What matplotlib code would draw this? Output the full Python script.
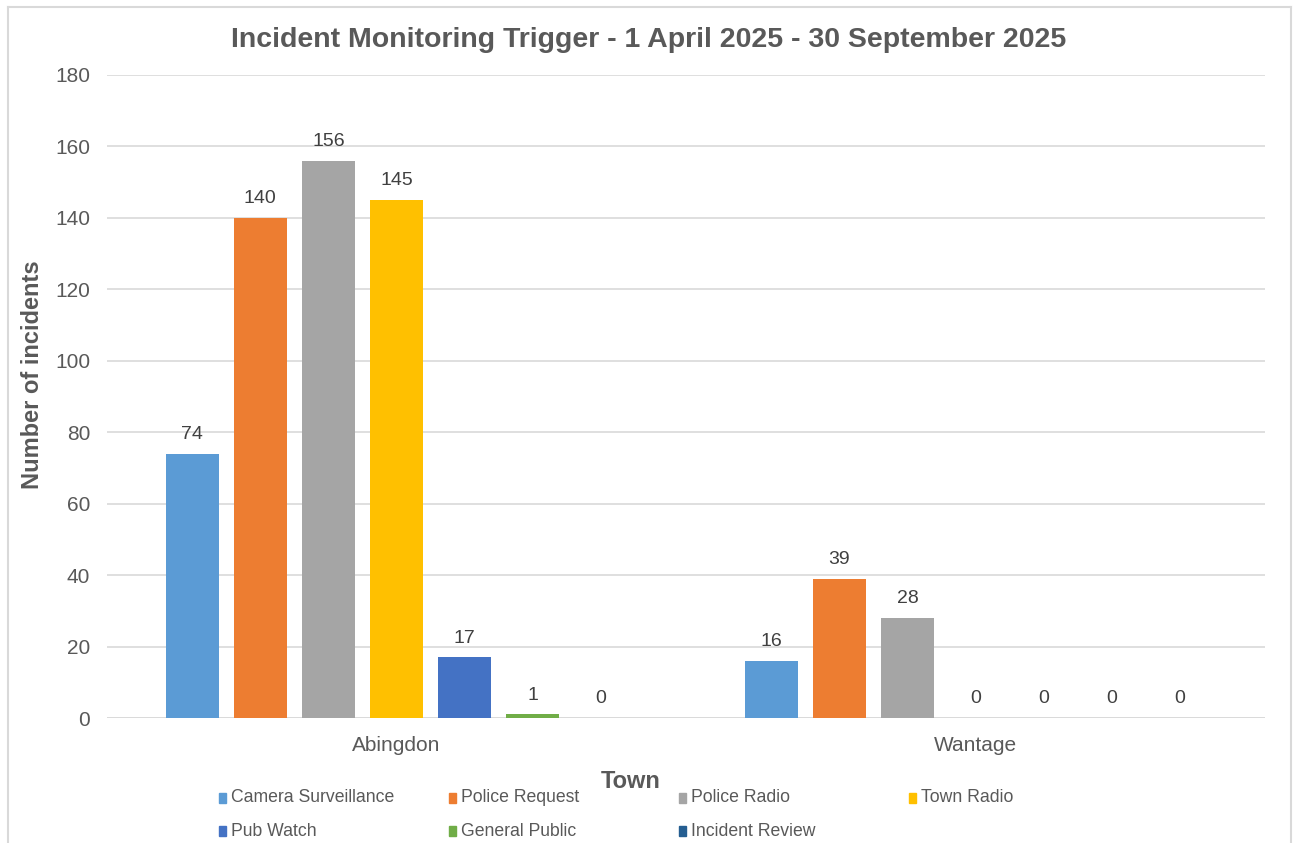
import numpy as np
import matplotlib.pyplot as plt
from matplotlib.lines import Line2D

plt.rcParams['font.family'] = ['Liberation Sans', 'DejaVu Sans']

towns = ['Abingdon', 'Wantage']
triggers = ['Camera Surveillance', 'Police Request', 'Police Radio', 'Town Radio',
            'Pub Watch', 'General Public', 'Incident Review']
camera_surveillance = [74, 16]
police_request = [140, 39]
police_radio = [156, 28]
town_radio = [145, 0]
pub_watch = [17, 0]
general_public = [1, 0]
incident_review = [0, 0]
colors = ['#5B9BD5', '#ED7D31', '#A5A5A5', '#FFC000', '#4472C4', '#70AD47', '#255E91']

series = [camera_surveillance, police_request, police_radio, town_radio,
          pub_watch, general_public, incident_review]

text_grey = '#595959'

fig = plt.figure(figsize=(12.96, 8.43), dpi=100)
ax = fig.add_axes([107 / 1296, 1 - 718 / 843, 1158 / 1296, 643 / 843])

x = np.arange(len(towns))
step = 0.1176
width = 0.0917
for i, (name, vals, c) in enumerate(zip(triggers, series, colors)):
    pos = x + (i - 3) * step
    ax.bar(pos, vals, width, color=c, label=name, zorder=3)
    for p, v in zip(pos, vals):
        ax.text(p, v + 3, str(v), ha='center', va='bottom',
                fontsize=14, color='#404040')

ax.set_xlim(-0.5, 1.5)
ax.set_ylim(0, 180)
ax.set_yticks(np.arange(0, 181, 20))
ax.set_xticks(x)
ax.set_xticklabels(towns)
ax.grid(axis='y', color='#D9D9D9', linewidth=1.2, zorder=0)
ax.tick_params(axis='both', length=0, labelsize=15, colors=text_grey)
ax.tick_params(axis='y', pad=12)
ax.tick_params(axis='x', pad=13)
for s in ax.spines.values():
    s.set_visible(False)
ax.axhline(0, color='#D9D9D9', linewidth=1.2, zorder=2)

fig.text(649 / 1296, 1 - 40 / 843, 'Incident Monitoring Trigger - 1 April 2025 - 30 September 2025',
         ha='center', va='center', fontsize=20.5, fontweight='bold', color=text_grey)
fig.text(33 / 1296, 1 - 375 / 843, 'Number of incidents', rotation=90,
         ha='center', va='center', fontsize=17, fontweight='bold', color=text_grey)
fig.text(631 / 1296, 1 - 782 / 843, 'Town', ha='center', va='center',
         fontsize=17, fontweight='bold', color=text_grey)

# legend laid out in two rows of four columns
col_x = [222, 452, 682, 912]
row_y = [798, 831]
for i, (name, c) in enumerate(zip(triggers, colors)):
    cx = col_x[i % 4] / 1296
    cy = 1 - row_y[i // 4] / 843
    fig.patches.append(plt.Rectangle((cx - 3.5 / 1296, cy - 5 / 843), 7 / 1296, 10 / 843,
                                     transform=fig.transFigure, color=c, figure=fig))
    fig.text(cx + 9 / 1296, cy, name, ha='left', va='center', fontsize=12.7, color=text_grey)

# chart frame
for xs, ys in [([8, 1291], [7, 7]), ([8, 8], [7, 843]), ([1291, 1291], [7, 843])]:
    fig.lines.append(Line2D([v / 1296 for v in xs], [1 - v / 843 for v in ys],
                            transform=fig.transFigure, color='#D9D9D9', linewidth=1.5))

fig.savefig('out.png', dpi=100)
